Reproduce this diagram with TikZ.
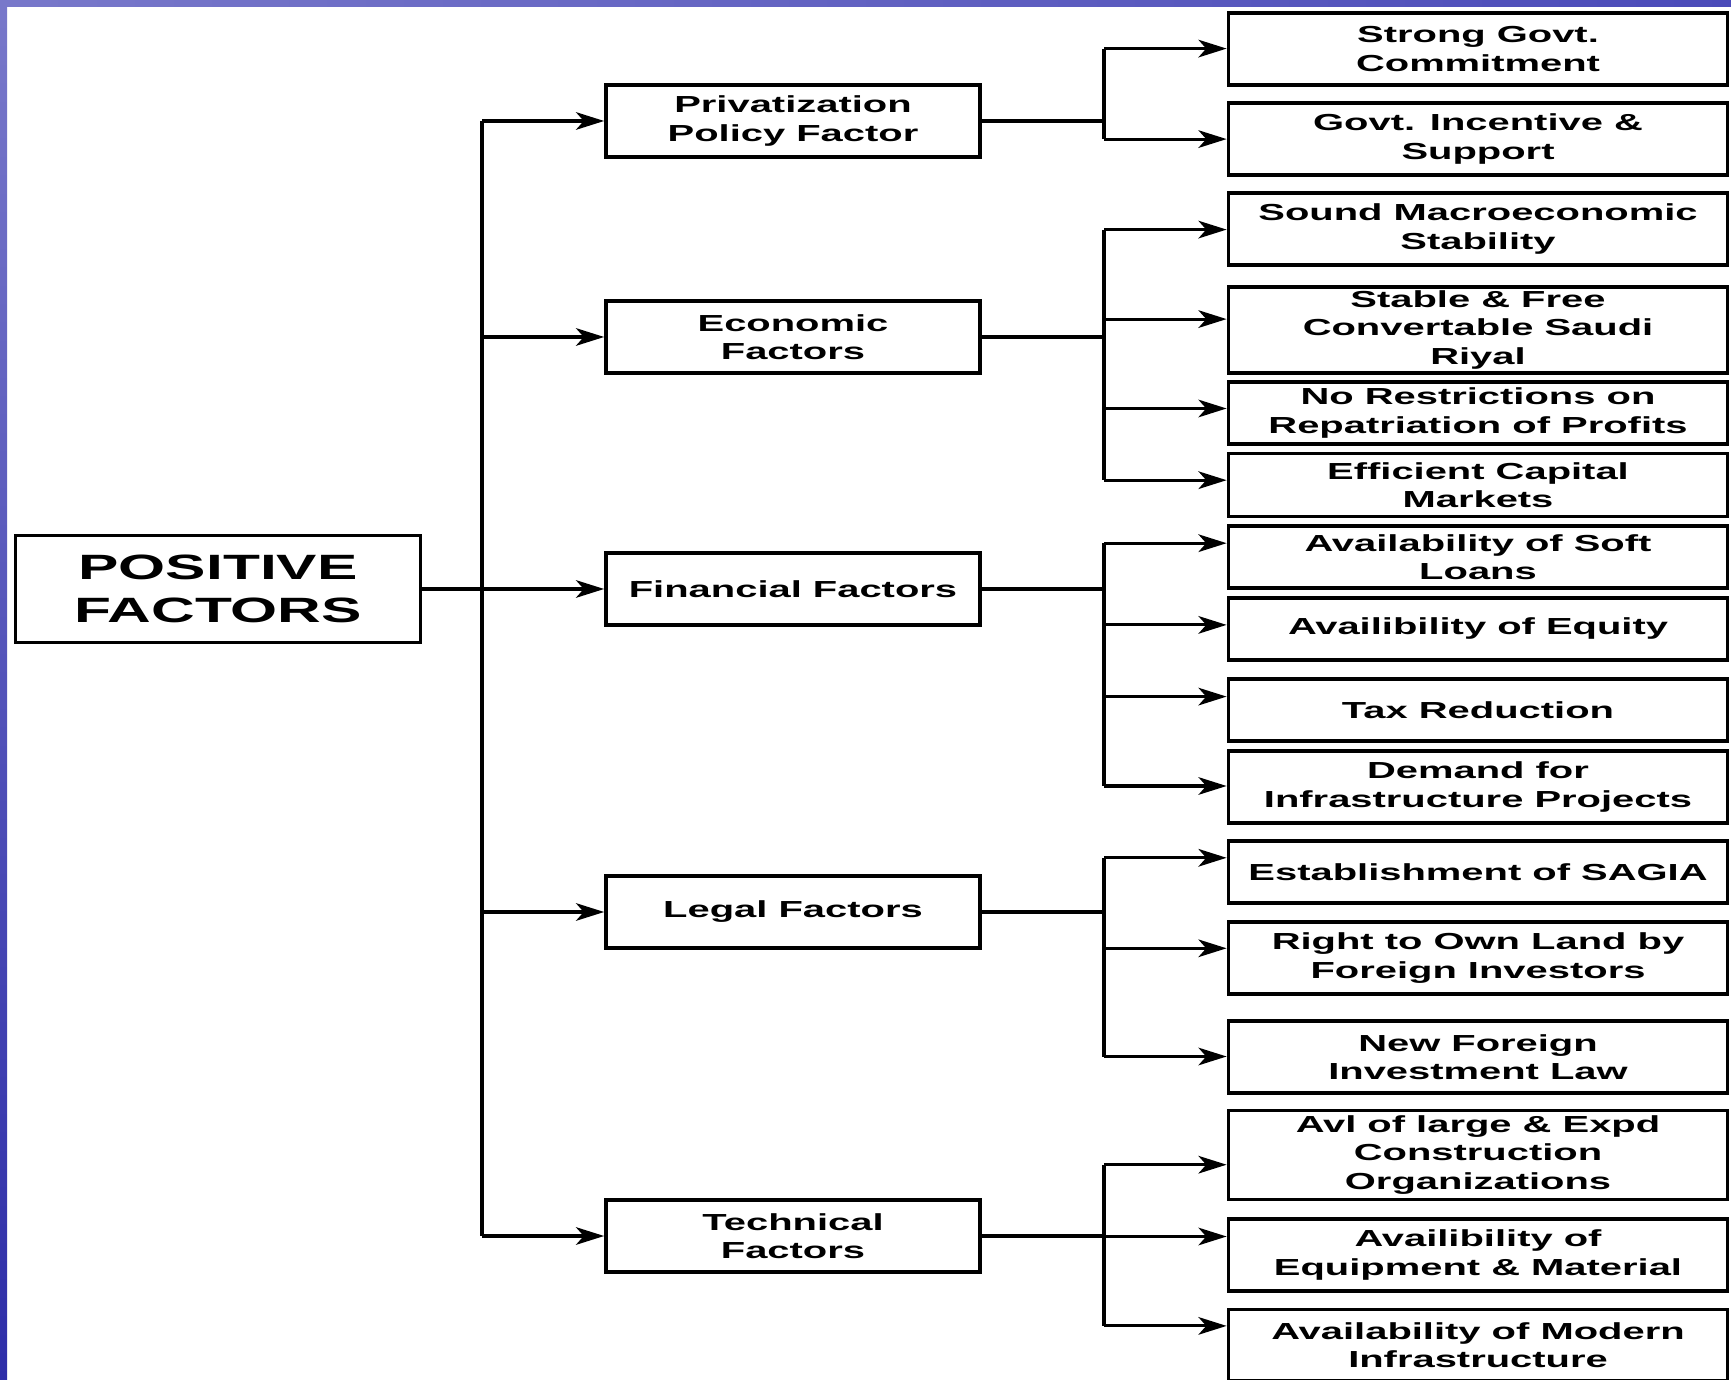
\documentclass[tikz,border=0pt]{standalone}
\usepackage{fontspec}
\newfontfamily\boxfont{Liberation Sans}[FakeStretch=1.72]
\usetikzlibrary{arrows.meta}
\definecolor{slideA}{RGB}{120,120,202}
\definecolor{slideB}{RGB}{165,165,222}
\definecolor{slideC}{RGB}{75,75,185}
\definecolor{slideD}{RGB}{215,215,242}
\definecolor{slideE}{RGB}{45,45,168}
\begin{document}
\begin{tikzpicture}[x=0.01cm,y=-0.01cm,line width=0.9pt,
  fbox/.style={draw,line width=1pt,align=center,inner sep=0pt,font=\boxfont\bfseries\fontsize{6.6}{8.1}\selectfont},
  midbox/.style={fbox,minimum width=3.74cm,minimum height=0.72cm},
  leafbox/.style={fbox,minimum width=4.99cm},
  arr/.style={-{Stealth[length=8pt,width=5pt,inset=2.2pt]}}]
\useasboundingbox (0,0) rectangle (1731,1380);
% slide frame
\shade[top color=slideA,middle color=slideD,bottom color=slideE] (0,0) rectangle (7,1380);
\shade[left color=slideA,middle color=slideB,right color=slideC] (0,0) rectangle (1731,7);
% root and main factors
\node[fbox,minimum width=4.05cm,minimum height=1.07cm,font=\boxfont\bfseries\fontsize{10}{12.2}\selectfont] (pos) at (218,589) {POSITIVE\\FACTORS};
\node[midbox] (pp) at (793,121) {Privatization\\Policy Factor};
\node[midbox] (eco) at (793,337) {Economic\\Factors};
\node[midbox] (fin) at (793,589) {Financial Factors};
\node[midbox] (leg) at (793,912) {Legal Factors};
\node[midbox] (tec) at (793,1236) {Technical\\Factors};
% sub factors
\foreach \i/\yc/\h/\txt in {
  1/49/0.72/{Strong Govt.\\Commitment},
  2/139/0.72/{Govt. Incentive \&\\Support},
  3/229/0.72/{Sound Macroeconomic\\Stability},
  4/330/0.86/{Stable \& Free\\Convertable Saudi\\Riyal},
  5/413/0.62/{No Restrictions on\\Repatriation of Profits},
  6/485/0.63/{Efficient Capital\\Markets},
  7/557/0.62/{Availability of Soft\\Loans},
  8/629/0.62/{Availibility of Equity},
  9/710/0.62/{Tax Reduction},
  10/787/0.72/{Demand for\\Infrastructure Projects},
  11/872/0.62/{Establishment of SAGIA},
  12/958/0.72/{Right to Own Land by\\Foreign Investors},
  13/1057/0.72/{New Foreign\\Investment Law},
  14/1155/0.89/{Avl of large \& Expd\\Construction\\Organizations},
  15/1255/0.72/{Availibility of\\Equipment \& Material},
  16/1345/0.71/{Availability of Modern\\Infrastructure}}
  \node[leafbox,minimum height=\h cm] (r\i) at (1478,\yc) {\txt};
% trunk
\coordinate (ta) at (482,0);
\draw (ta |- pp) -- (ta |- tec);
\draw (pos.east) -- (ta |- pos);
\foreach \m in {pp,eco,fin,leg,tec}
  \draw[arr] (ta |- \m) -- (\m.west);
% branches
\foreach \i/\ya in {1/48.6,2/139.1,3/229.6,4/319.1,5/408.5,6/480.2,7/543.2,8/624.9,
  9/696.6,10/786,11/857.8,12/948.3,13/1056.5,14/1164.7,15/1236.5,16/1325.9} {
  \coordinate (j\i) at (1104,\ya);
  \draw[arr] (j\i) -- (j\i -| r\i.west);
}
\foreach \m/\a/\b in {pp/1/2,eco/3/6,fin/7/10,leg/11/13,tec/14/16} {
  \draw (\m.east) -- (j\a |- \m);
  \draw (j\a) -- (j\b);
}
\end{tikzpicture}
\end{document}
